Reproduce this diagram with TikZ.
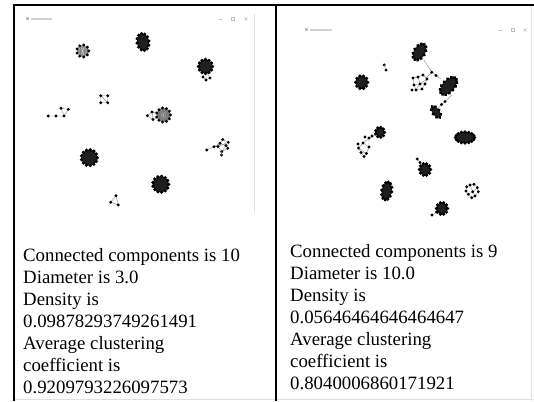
\documentclass[tikz,border=0pt]{standalone}
\usepackage{fontspec}
\setmainfont{Liberation Serif}
\newcommand\gd[2]{\fill[black] (#1,#2) circle (1.6);}
% ring cluster: x y r n edgecolor
\newcommand\gring[5]{%
  \begin{scope}[shift={(#1,#2)}]
    \foreach \i in {1,...,#4}{\foreach \j in {\i,...,#4}{%
      \draw[#5,line width=0.4pt] (360*\i/#4:#3) -- (360*\j/#4:#3);}}
    \foreach \i in {1,...,#4}{\fill[black] (360*\i/#4:#3) circle (1.6);}
  \end{scope}}
% dense blob: x y rx ry rot n
\newcommand\gblob[6]{%
  \begin{scope}[shift={(#1,#2)},rotate=#5]
    \fill[black!88] (0,0) ellipse ({#3} and {#4});
    \foreach \i in {1,...,#6}{\fill[black] ({#3*cos(360*\i/#6)},{#4*sin(360*\i/#6)}) circle (1.8);}
  \end{scope}}
\begin{document}
\begin{tikzpicture}[x=1pt,y=-1pt,
  edge/.style={draw=black!45,line width=0.4pt},
  rule/.style={draw=black,line width=2pt},
  faint/.style={draw=black!12,line width=0.7pt},
  winctl/.style={draw=black!25,line width=0.6pt},
  stat/.style={anchor=base west,inner sep=0pt,font=\fontsize{18.8}{22}\selectfont}]
\useasboundingbox (0,0) rectangle (534,401);
\fill[white] (0,0) rectangle (534,401);

% table rules
\draw[faint] (14,399.5) -- (534,399.5);
\draw[faint] (531.5,5) -- (531.5,401);
\draw[faint] (254,14) -- (254,213);
\draw[rule] (14,401) -- (14,5) -- (534,5);
\draw[rule] (276,5) -- (276,401);

% window title bars
\fill[black!25] (25.5,17.5) rectangle (28.5,20.5);
\draw[black!18,line width=1.4pt] (31,19) -- (52,19);
\draw[winctl] (218.5,19) -- (221.5,19);
\draw[winctl] (231.5,17.5) rectangle (234.5,20.5);
\draw[winctl] (244.5,17.5) -- (247.5,20.5) (244.5,20.5) -- (247.5,17.5);
\fill[black!25] (304.5,28.5) rectangle (307.5,31.5);
\draw[black!18,line width=1.4pt] (310,30) -- (332,30);
\draw[winctl] (498.5,30) -- (501.5,30);
\draw[winctl] (511.5,28.5) rectangle (514.5,31.5);
\draw[winctl] (523.5,28.5) -- (526.5,31.5) (523.5,31.5) -- (526.5,28.5);

% ---------------- left graph ----------------
\gring{82.7}{51}{6}{9}{black!50}
\gblob{143}{42}{6}{8.5}{10}{12}
\draw[edge] (205,72) -- (203,77) -- (206,80) -- (210,78) -- (207,73) (206,74) -- (206,80);
\gblob{205.5}{66.5}{7}{7}{0}{12}
\gd{203}{77}\gd{206}{80}\gd{210}{78}
% square
\draw[edge] (100.7,95.7) -- (107.7,95.7) -- (107.7,102.7) -- (100.7,102.7) -- cycle (100.7,95.7) -- (107.7,102.7);
\gd{100.7}{95.7}\gd{107.7}{95.7}\gd{100.7}{102.7}\gd{107.7}{102.7}
% chain
\draw[edge] (48.3,116) -- (56,116) -- (64,116) -- (61,108.3) -- (68.3,109.3) -- (64,116);
\gd{48.3}{116}\gd{56}{116}\gd{64}{116}\gd{61}{108.3}\gd{68.3}{109.3}
% middle cluster with tail
\draw[edge] (147.3,115.7) -- (152,112) -- (157,113) (147.3,115.7) -- (153,119.5) -- (157,118) (152,112) -- (153,119.5);
\gring{163.5}{115}{7}{11}{black!55}
\gd{147.3}{115.7}\gd{152}{112}\gd{153}{119.5}
% sparse right cluster
\draw[edge] (206.7,150) -- (214,146.7) -- (220,143.3) -- (222.7,139.5) -- (228.3,142.3) -- (227.7,148.3) -- (221.7,151.7) -- (218,146.5) -- (222.7,139.5)
  (220,143.3) -- (226,145.5) -- (221.7,151.7) (218,146.5) -- (228.3,142.3) (226,145.5) -- (227.7,148.3) (214,146.7) -- (218,146.5);
\gd{206.7}{150}\gd{214}{146.7}\gd{220}{143.3}\gd{222.7}{139.5}\gd{228.3}{142.3}\gd{227.7}{148.3}\gd{221.7}{151.7}\gd{218}{146.5}\gd{226}{145.5}\gd{221.5}{155}
\draw[edge] (221.7,151.7) -- (221.5,155);
\gblob{89.3}{157.7}{8}{8}{0}{13}
\gblob{160.7}{184.3}{8}{8}{0}{13}
% triangle
\draw[edge] (116,195.7) -- (110.7,202.3) -- (118.3,205) -- cycle;
\gd{116}{195.7}\gd{110.7}{202.3}\gd{118.3}{205}

% ---------------- right graph ----------------
\draw[edge] (424,60) -- (431.7,72.3) -- (441,79) (431.7,72.3) -- (426,78);
\gblob{419.5}{52}{5.5}{9}{-32}{12}
\gd{431.7}{72.3}\gd{436}{75.5}
\gd{384.3}{65}\gd{386}{70}
\draw[edge] (384.3,65) -- (386,70);
\gblob{361.7}{82.3}{6}{6.5}{0}{10}
% sparse cluster under hub
\draw[edge] (413,78) -- (418,77) -- (423,75) -- (427,79) -- (425,84) -- (420,84) -- (414,85) -- (413,78)
  (418,77) -- (420,84) -- (416,90) -- (422,89) -- (425,84) (414,85) -- (416,90) (427,79) -- (420,84);
\gd{413}{78}\gd{418}{77}\gd{423}{75}\gd{427}{79}\gd{414}{85}\gd{420}{84}\gd{416}{90}\gd{422}{89}\gd{425}{84}\gd{412}{90}
\gblob{448.5}{86}{6}{10.5}{-43}{14}
\draw[edge] (452,95) -- (445,101.5);
% chain down-left
\draw[edge] (445,101.5) -- (441.5,104.5) -- (438.5,108) -- (435,112);
\gd{445}{101.5}\gd{441.5}{104.5}
\gblob{436}{112}{3.5}{6.5}{35}{8}
% left middle
\gblob{380}{132.3}{4.5}{5}{0}{9}
\draw[edge] (376,135) -- (369,138) -- (363,143) -- (358.5,148) -- (361,152.5) -- (366.5,153.5) -- (369,147) -- (363,143)
  (369,138) -- (369,147) (361,152.5) -- (364,156.5) -- (366.5,153.5) (358.5,148) -- (366.5,153.5);
\gd{369}{138}\gd{365}{137}\gd{363}{143}\gd{358.5}{148}\gd{361}{152.5}\gd{366.5}{153.5}\gd{369}{147}\gd{364}{156.5}\gd{372}{136}\gd{358}{144}
\gblob{465}{137.5}{9.5}{5.5}{0}{16}
% lower middle with tail
\draw[edge] (417.3,159) -- (420,162.5) -- (423,166);
\gd{417.3}{159}\gd{420}{162.5}
\gblob{425}{169.5}{5.5}{6}{0}{10}
\gblob{386.7}{191}{5}{9}{-10}{12}
% sparse ring
\draw[edge] (466.7,186.7) -- (470,185) -- (474,184.3) -- (477.3,187.7) -- (478.3,191.7) -- (475,196) -- (471.7,197.7) -- (468.3,194.3) -- (466,191) -- (466.7,186.7)
  (472.7,191.7) -- (470,185) (472.7,191.7) -- (477.3,187.7) (472.7,191.7) -- (475,196) (472.7,191.7) -- (468.3,194.3);
\gd{466.7}{186.7}\gd{470}{185}\gd{474}{184.3}\gd{477.3}{187.7}\gd{478.3}{191.7}\gd{475}{196}\gd{471.7}{197.7}\gd{468.3}{194.3}\gd{472.7}{191.7}\gd{466}{191}
% bottom with tail
\draw[edge] (432,215) -- (437,212) -- (440,210);
\gd{432}{215}\gd{436.5}{212}
\gblob{442}{208.5}{5.5}{6}{0}{10}

% ---------------- statistics text ----------------
\node[stat] (l1) at (23,261.6) {Connected components is 10};
\node[stat] (l2) at (23,283.5) {Diameter is 3.0};
\node[stat] (l3) at (23,305.4) {Density is};
\node[stat] (l4) at (23,327.3) {0.09878293749261491};
\node[stat] (l5) at (23,349.2) {Average clustering};
\node[stat] (l6) at (23,371.1) {coefficient is};
\node[stat] (l7) at (23,393) {0.9209793226097573};
\node[stat] (r1) at (290,257.5) {Connected components is 9};
\node[stat] (r2) at (290,279.5) {Diameter is 10.0};
\node[stat] (r3) at (290,301.5) {Density is};
\node[stat] (r4) at (290,323.5) {0.05646464646464647};
\node[stat] (r5) at (290,345.5) {Average clustering};
\node[stat] (r6) at (290,367.5) {coefficient is};
\node[stat] (r7) at (290,389.5) {0.8040006860171921};
\end{tikzpicture}
\end{document}
